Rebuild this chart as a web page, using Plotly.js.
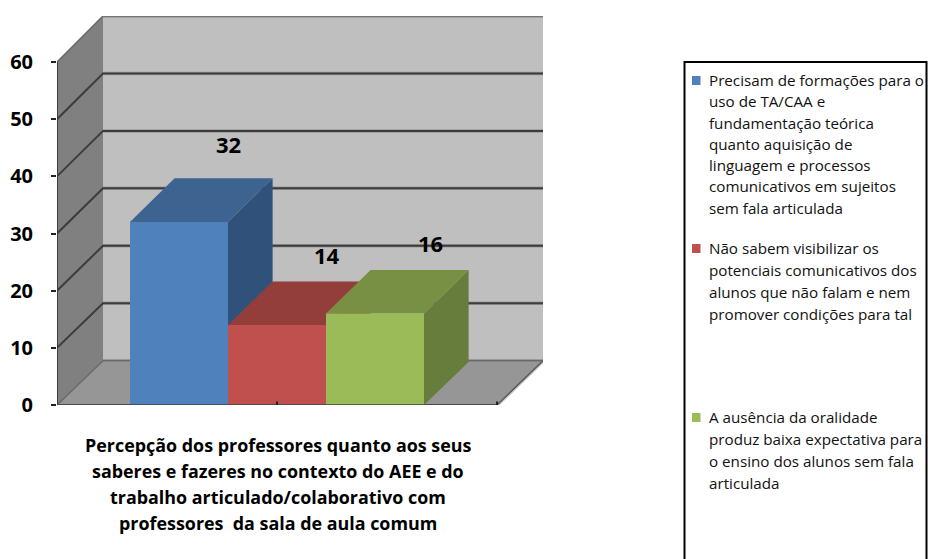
<!DOCTYPE html>
<html>
<head>
<meta charset="utf-8">
<title>Percepção dos professores</title>
<script src="https://cdn.plot.ly/plotly-3.0.1.min.js"></script>
<style>html,body{margin:0;padding:0;background:#fff;overflow:hidden}#chart{width:928px;height:559px}</style>
</head>
<body>
<div id="chart"></div>
<script>
// Series values and their labels
const seriesValues = [32, 14, 16];
const seriesFront = ['#4F81BD', '#C0504D', '#9BBB59'];
const seriesTop = ['#3D6391', '#943E3B', '#779044'];
const seriesSide = ['#30527A', '#7F3532', '#667D3B'];
const yTicks = [0, 10, 20, 30, 40, 50, 60];
const legendLines = [
  ['Precisam de formações para o', 'uso de TA/CAA e', 'fundamentação teórica', 'quanto aquisição de',
   'linguagem e processos', 'comunicativos em sujeitos', 'sem fala articulada'],
  ['Não sabem visibilizar os', 'potenciais comunicativos dos', 'alunos que não falam e nem',
   'promover condições para tal'],
  ['A ausência da oralidade', 'produz baixa expectativa para', 'o ensino dos alunos sem fala', 'articulada']
];
const axisTitleLines = [
  'Percepção dos professores quanto aos seus',
  'saberes e fazeres no contexto do AEE e do',
  'trabalho articulado/colaborativo com',
  'professores  da sala de aula comum'
];

// Plot frame in pixels
const M = {l: 57, r: 385, t: 16, b: 154};
const W = 928, H = 559;
const plotW = W - M.l - M.r, plotH = H - M.t - M.b;
const FONT = '"Open Sans", Lato, sans-serif';

// Oblique projection: a point at depth d (0 front, 1 back) shifts right and up,
// with the back wall very slightly taller than the front plane
const XSPAN = 1, DX = 46 / 440;
const proj = (x, v, d) => [x + d * DX, v + d * (7.75 + 0.005 * v)];
const BAR_START = 73 / 440, BAR_W = 98 / 440, BAR_DEPTH = 0.97;

const px = x => (x - M.l) / plotW;
const py = y => (M.t + plotH - y) / plotH;

function poly(points, color, name) {
  const p = points.concat([points[0]]);
  return {type: 'scatter', mode: 'lines', x: p.map(q => q[0]), y: p.map(q => q[1]),
    fill: 'toself', fillcolor: color, line: {width: 0, color: color},
    hoverinfo: 'skip', showlegend: false, name: name || '', cliponaxis: false};
}
function path(points, color, width) {
  return {type: 'scatter', mode: 'lines', x: points.map(q => q[0]), y: points.map(q => q[1]),
    line: {color: color, width: width}, hoverinfo: 'skip', showlegend: false, cliponaxis: false};
}

const traces = [];
const yMax = yTicks[yTicks.length - 1];

// Soft edge along the outside of the walls and floor
traces.push(path([proj(XSPAN, 0, 0), proj(XSPAN, 0, 1), proj(XSPAN, yMax, 1), proj(0, yMax, 1)], '#c8c8c8', 4));
traces.push(path([[0, -0.5], [XSPAN, -0.5]], '#c8c8c8', 4));

// Walls and floor
traces.push(poly([proj(0, 0, 1), proj(XSPAN, 0, 1), proj(XSPAN, yMax, 1), proj(0, yMax, 1)], '#BFBFBF'));
traces.push(poly([proj(0, 0, 0), proj(0, 0, 1), proj(0, yMax, 1), proj(0, yMax, 0)], '#808080'));
traces.push(poly([proj(0, 0, 0), proj(XSPAN, 0, 0), proj(XSPAN, 0, 1), proj(0, 0, 1)], '#969696'));

// Gridlines wrap from the left wall onto the back wall
yTicks.forEach(v => {
  const edge = v === 0 || v === yMax;
  traces.push(path([proj(0, v, 1), proj(XSPAN, v, 1)], '#9a9a9a', 3.5));
  traces.push(path([proj(0, v, 0), proj(0, v, 1), proj(XSPAN, v, 1)], edge ? '#6a6a6a' : '#3c3c3c', edge ? 1.5 : 2));
});
traces.push(path([proj(XSPAN, 0, 0), proj(XSPAN, 0, 1)], '#5a5a5a', 1.5));

// Axis lines
traces.push(path([[0, 0], [0, yMax]], '#3c3c3c', 2));
traces.push(path([[0, 0], [XSPAN, 0]], '#4a4a4a', 2));

// Bars, left to right so each one overlaps the side of its neighbour
seriesValues.forEach((v, i) => {
  const x0 = BAR_START + i * BAR_W, x1 = x0 + BAR_W, d = BAR_DEPTH;
  traces.push(poly([proj(x1, 0, 0), proj(x1, 0, d), proj(x1, v, d), proj(x1, v, 0)], seriesSide[i], legendLines[i][0]));
  traces.push(poly([proj(x0, v, 0), proj(x1, v, 0), proj(x1, v, d), proj(x0, v, d)], seriesTop[i], legendLines[i][0]));
  traces.push(poly([proj(x0, 0, 0), proj(x1, 0, 0), proj(x1, v, 0), proj(x0, v, 0)], seriesFront[i], legendLines[i][0]));
});

// Base line under the bars and the category-boundary ticks
traces.push(path([[BAR_START, 0], [BAR_START + 3 * BAR_W, 0]], '#3a4a3a', 1.5));
traces.push(path([[0, 0], [0, -1.3]], '#222', 2));
traces.push(path([[0.5, 0], [0.5, 0.6]], '#222', 2));
traces.push(path([[XSPAN, -1.3], [XSPAN, 0.6]], '#222', 2));

// Value labels above the bars
const labelNudge = [[0.223, 13.7], [0.225, 12.3], [0.237, 12.3]];
const annotations = seriesValues.map((v, i) => ({
  x: BAR_START + i * BAR_W + labelNudge[i][0], y: v + labelNudge[i][1],
  xref: 'x', yref: 'y', text: String(v), showarrow: false,
  xanchor: 'center', yanchor: 'middle',
  font: {family: FONT, size: 22, color: '#000', weight: 700}
}));

// Category caption, one annotation per line for its wide leading
axisTitleLines.forEach((t, i) => annotations.push({
  xref: 'paper', yref: 'paper', x: px(278), y: py(445 + i * 26), text: t, showarrow: false,
  xanchor: 'center', yanchor: 'middle',
  font: {family: FONT, size: 17.9, color: '#000', weight: 700}
}));

// Legend box, swatches and text
const legendTop = [80, 248, 417], legendStep = [21.3, 22, 22];
const shapes = [{
  type: 'rect', xref: 'paper', yref: 'paper', x0: px(684.5), x1: px(926.5), y0: py(575), y1: py(62),
  line: {color: '#000', width: 2}, fillcolor: '#fff', layer: 'below'
}];
legendLines.forEach((lines, s) => {
  shapes.push({type: 'rect', xref: 'paper', yref: 'paper',
    x0: px(692), x1: px(700.5), y0: py(legendTop[s] + 5), y1: py(legendTop[s] - 4),
    line: {width: 0}, fillcolor: seriesFront[s]});
  lines.forEach((t, i) => annotations.push({
    xref: 'paper', yref: 'paper', x: px(708), y: py(legendTop[s] + i * legendStep[s]),
    text: t, showarrow: false, xanchor: 'left', yanchor: 'middle', xshift: -1,
    font: {family: FONT, size: 15.2, color: '#111'}
  }));
});

const layout = {
  width: W, height: H, autosize: false,
  margin: {l: M.l, r: M.r, t: M.t, b: M.b, pad: 0},
  paper_bgcolor: '#fff', plot_bgcolor: 'rgba(0,0,0,0)',
  showlegend: false, hovermode: false,
  xaxis: {range: [0, plotW / 440], showgrid: false, zeroline: false, showline: false,
    showticklabels: false, ticks: '', fixedrange: true},
  yaxis: {range: [0, plotH / (343 / 60)], tickmode: 'array', tickvals: yTicks,
    ticktext: yTicks.map(String), showgrid: false, zeroline: false, showline: false,
    ticks: 'outside', ticklen: 5, tickwidth: 2, tickcolor: '#222', ticklabelstandoff: 14,
    tickfont: {family: FONT, size: 20, color: '#000', weight: 700}, fixedrange: true},
  shapes: shapes, annotations: annotations
};

Plotly.newPlot('chart', traces, layout, {displayModeBar: false, staticPlot: true});
</script>
</body>
</html>
